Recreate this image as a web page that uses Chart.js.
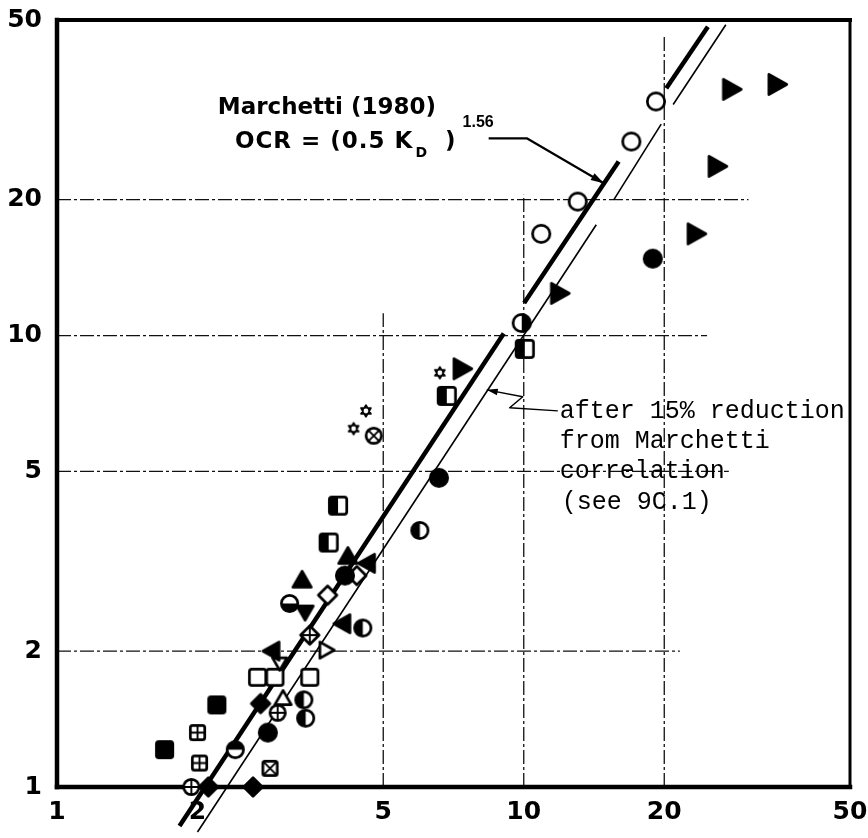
<!DOCTYPE html>
<html>
<head>
<meta charset="utf-8">
<script src="https://cdn.jsdelivr.net/npm/chart.js@4.4.1/dist/chart.umd.min.js"></script>
<style>
  html, body { margin: 0; padding: 0; background: #fff; }
  #wrap { width: 868px; height: 838px; }
</style>
</head>
<body>
<div id="wrap"><canvas id="ocrChart" width="868" height="838"></canvas></div>
<script>
// ticks on both log axes
const kdTicks = [1, 2, 5, 10, 20, 50];
const ocrTicks = [1, 2, 5, 10, 20, 50];

// measured points [K_D, OCR], one array per plotting symbol
const openCircle = [[19.2, 33.0], [17.0, 26.9], [13.05, 19.8], [10.9, 16.8]];
const fullCircle = [[18.9, 14.8], [6.58, 4.84], [4.14, 2.94], [2.83, 1.32]];
const leftHalfCircle = [[5.99, 3.70], [4.52, 2.25], [3.38, 1.56], [3.41, 1.42]];
const rightHalfCircle = [[9.90, 10.66]];
const bottomHalfCircle = [[3.15, 2.55]];
const topHalfCircle = [[2.41, 1.21]];
const plusCircle = [[1.94, 1.0], [2.97, 1.46]];
const crossCircle = [[4.77, 6.0]];
const rightTriangle = [[27.8, 35.1], [34.8, 36.0], [25.9, 23.7], [23.35, 16.8], [11.9, 12.4], [7.36, 8.44]];
const leftTriangle = [[4.63, 3.13], [4.10, 2.30], [2.89, 2.0]];
const upTriangle = [[4.20, 3.24], [3.35, 2.87]];
const downTriangle = [[3.40, 2.44]];
const openUpTriangle = [[3.05, 1.57]];
const openRightTriangle = [[3.77, 2.01]];
const openDownTriangle = [[3.0, 1.88]];
const openSquare = [[2.69, 1.75], [2.93, 1.75], [3.48, 1.75]];
const fullSquare = [[2.20, 1.52], [1.70, 1.21]];
const halfSquare = [[10.05, 9.34], [6.84, 7.35], [4.0, 4.20], [3.82, 3.48]];
const plusSquare = [[2.00, 1.32], [2.02, 1.13]];
const crossSquare = [[2.86, 1.10]];
const openDiamond = [[4.39, 2.94], [3.80, 2.66]];
const fullDiamond = [[2.11, 1.0], [2.63, 1.0], [2.73, 1.53]];
const plusDiamond = [[3.48, 2.17]];
const smallStar = [[6.61, 8.27], [4.59, 6.81], [4.32, 6.22]];

// Marchetti (1980) line and the 15% reduced line, in the pieces drawn on the sheet
const marchettiLine = [[[1.83, 0.82], [9.06, 10.1]], [[10.02, 11.8], [15.97, 24.3]], [[20.2, 35.3], [24.8, 48.3]]];
const reducedLine = [[[2.0, 0.795], [14.3, 17.6]], [[15.6, 20.0], [19.7, 29.4]], [[20.9, 32.5], [27.1, 48.8]]];

// partial grid lines: [value, from, to]
const gridRows = [[20, 1, 30.3], [10, 1, 24.7], [5, 1, 27.5], [2, 1, 21.6]];
const gridCols = [[5, 1, 11.2], [10, 1, 20.5], [20, 1, 45.9]];

function shapePath(g, shape, r) {
    if (shape === 'circle') {
        g.arc(0, 0, r, 0, Math.PI * 2);
    } else if (shape === 'square') {
        g.roundRect(-r, -r, 2 * r, 2 * r, r * 0.3);
    } else if (shape === 'diamond') {
        g.moveTo(0, -r * 1.2); g.lineTo(r * 1.2, 0); g.lineTo(0, r * 1.2); g.lineTo(-r * 1.2, 0); g.closePath();
    } else if (shape === 'triR') {
        g.moveTo(r, 0); g.lineTo(-r * 0.75, -r); g.lineTo(-r * 0.75, r); g.closePath();
    } else if (shape === 'triL') {
        g.moveTo(-r, 0); g.lineTo(r * 0.75, -r); g.lineTo(r * 0.75, r); g.closePath();
    } else if (shape === 'triU') {
        g.moveTo(0, -r); g.lineTo(r, r * 0.75); g.lineTo(-r, r * 0.75); g.closePath();
    } else if (shape === 'triD') {
        g.moveTo(0, r); g.lineTo(r, -r * 0.75); g.lineTo(-r, -r * 0.75); g.closePath();
    } else if (shape === 'star') {
        for (let k = 0; k < 2; k++) {
            const a0 = -Math.PI / 2 + k * Math.PI;
            g.moveTo(r * Math.cos(a0), r * Math.sin(a0));
            g.lineTo(r * Math.cos(a0 + 2.094), r * Math.sin(a0 + 2.094));
            g.lineTo(r * Math.cos(a0 + 4.189), r * Math.sin(a0 + 4.189));
            g.closePath();
        }
    }
}

function symbol(shape, fill, d) {
    const c = document.createElement('canvas');
    const s = Math.ceil(d + 8);
    c.width = s; c.height = s;
    const g = c.getContext('2d');
    g.translate(s / 2, s / 2);
    g.lineJoin = 'round';
    g.strokeStyle = '#000';
    const r = d / 2 - 1.3;
    const R = r * 1.5;

    g.beginPath(); shapePath(g, shape, r);
    g.fillStyle = fill === 'full' ? '#000' : '#fff';
    g.fill();

    g.save();
    g.beginPath(); shapePath(g, shape, r); g.clip();
    g.fillStyle = '#000';
    if (fill === 'left') g.fillRect(-R, -R, R, 2 * R);
    if (fill === 'right') g.fillRect(0, -R, R, 2 * R);
    if (fill === 'top') g.fillRect(-R, -R, 2 * R, R);
    if (fill === 'bottom') g.fillRect(-R, 0, 2 * R, R);
    g.lineWidth = 1.9;
    if (fill === 'plus') {
        g.beginPath(); g.moveTo(-R, 0); g.lineTo(R, 0); g.moveTo(0, -R); g.lineTo(0, R); g.stroke();
    }
    if (fill === 'cross') {
        g.beginPath(); g.moveTo(-R, -R); g.lineTo(R, R); g.moveTo(R, -R); g.lineTo(-R, R); g.stroke();
    }
    g.restore();

    g.lineWidth = shape === 'star' ? 1.8 : 2.7;
    g.beginPath(); shapePath(g, shape, r); g.stroke();
    if (shape === 'star') {
        g.fillStyle = '#000';
        g.fill();
        g.fillStyle = '#fff';
        g.beginPath(); g.arc(0, 0, r * 0.42, 0, Math.PI * 2); g.fill();
    }
    return c;
}

const symbolSets = [
    [openCircle, 'circle', 'open', 20],
    [fullCircle, 'circle', 'full', 20],
    [leftHalfCircle, 'circle', 'left', 19],
    [rightHalfCircle, 'circle', 'right', 20],
    [bottomHalfCircle, 'circle', 'bottom', 19],
    [topHalfCircle, 'circle', 'top', 19],
    [plusCircle, 'circle', 'plus', 18],
    [crossCircle, 'circle', 'cross', 18],
    [rightTriangle, 'triR', 'full', 23],
    [leftTriangle, 'triL', 'full', 21],
    [upTriangle, 'triU', 'full', 21],
    [downTriangle, 'triD', 'full', 19],
    [openUpTriangle, 'triU', 'open', 19],
    [openRightTriangle, 'triR', 'open', 19],
    [openDownTriangle, 'triD', 'open', 17],
    [openSquare, 'square', 'open', 19],
    [fullSquare, 'square', 'full', 19],
    [halfSquare, 'square', 'left', 20],
    [plusSquare, 'square', 'plus', 17],
    [crossSquare, 'square', 'cross', 17],
    [openDiamond, 'diamond', 'open', 18],
    [fullDiamond, 'diamond', 'full', 18],
    [plusDiamond, 'diamond', 'plus', 18],
    [smallStar, 'star', 'full', 14]
];

const toXY = pts => pts.map(p => ({ x: p[0], y: p[1] }));

const datasets = [];
symbolSets.forEach(([pts, shape, fill, d]) => {
    datasets.push({
        type: 'scatter',
        data: toXY(pts),
        pointStyle: symbol(shape, fill, d),
        pointRadius: d / 2,
        clip: false,
        order: 0
    });
});
marchettiLine.forEach(seg => {
    datasets.push({
        type: 'line', data: toXY(seg), borderColor: '#000', borderWidth: 4.5,
        pointRadius: 0, clip: false, order: 5
    });
});
reducedLine.forEach(seg => {
    datasets.push({
        type: 'line', data: toXY(seg), borderColor: '#000', borderWidth: 1.6,
        pointRadius: 0, clip: false, order: 5
    });
});

function arrow(ctx, pts, width, head) {
    ctx.lineWidth = width;
    ctx.beginPath();
    pts.forEach((p, i) => i ? ctx.lineTo(p[0], p[1]) : ctx.moveTo(p[0], p[1]));
    ctx.stroke();
    const [x1, y1] = pts[pts.length - 2];
    const [x2, y2] = pts[pts.length - 1];
    const a = Math.atan2(y2 - y1, x2 - x1);
    ctx.beginPath();
    ctx.moveTo(x2, y2);
    ctx.lineTo(x2 - head * Math.cos(a) + head * 0.3 * Math.sin(a), y2 - head * Math.sin(a) - head * 0.3 * Math.cos(a));
    ctx.lineTo(x2 - head * Math.cos(a) - head * 0.3 * Math.sin(a), y2 - head * Math.sin(a) + head * 0.3 * Math.cos(a));
    ctx.closePath();
    ctx.fill();
}

const paperPlugin = {
    id: 'paper',
    beforeDatasetsDraw(chart) {
        const { ctx, chartArea: a, scales: { x, y } } = chart;
        ctx.save();
        ctx.strokeStyle = '#111';
        ctx.lineWidth = 1.3;
        ctx.setLineDash([14, 3, 3, 3]);
        gridRows.forEach(([v, from, to]) => {
            ctx.beginPath();
            ctx.moveTo(x.getPixelForValue(from), y.getPixelForValue(v));
            ctx.lineTo(x.getPixelForValue(to), y.getPixelForValue(v));
            ctx.stroke();
        });
        gridCols.forEach(([v, from, to]) => {
            ctx.beginPath();
            ctx.moveTo(x.getPixelForValue(v), y.getPixelForValue(from));
            ctx.lineTo(x.getPixelForValue(v), y.getPixelForValue(to));
            ctx.stroke();
        });
        ctx.setLineDash([]);
        ctx.strokeStyle = '#000';
        ctx.lineCap = 'square';
        const side = (w, x1, y1, x2, y2) => {
            ctx.lineWidth = w;
            ctx.beginPath(); ctx.moveTo(x1, y1); ctx.lineTo(x2, y2); ctx.stroke();
        };
        side(4.5, a.left, a.top, a.left, a.bottom);
        side(4.5, a.left, a.bottom, a.right, a.bottom);
        side(4, a.left, a.top, a.right, a.top);
        side(3, a.right, a.top, a.right, a.bottom);
        ctx.restore();
    },
    afterDraw(chart) {
        const { ctx, scales: { x, y } } = chart;
        const P = (kd, ocr) => [x.getPixelForValue(kd), y.getPixelForValue(ocr)];
        ctx.save();
        ctx.fillStyle = '#000';
        ctx.strokeStyle = '#000';
        ctx.textBaseline = 'alphabetic';
        ctx.textAlign = 'left';

        // Marchetti label
        ctx.font = 'bold 23px "DejaVu Sans"';
        let [tx, ty] = P(2.21, 30.9);
        ctx.fillText('Marchetti (1980)', tx, ty);
        [tx, ty] = P(2.405, 25.98);
        const main = 'OCR = (0.5 K';
        ctx.letterSpacing = '1px';
        ctx.fillText(main, tx, ty);
        tx += ctx.measureText(main).width + 2;
        ctx.letterSpacing = '0px';
        ctx.font = 'bold 14px "DejaVu Sans"';
        ctx.fillText('D', tx, ty + 9);
        tx += ctx.measureText('D').width + 18;
        ctx.font = 'bold 23px "DejaVu Sans"';
        ctx.fillText(')', tx, ty);
        tx += ctx.measureText(')').width + 7;
        ctx.font = 'bold 16px "Liberation Sans"';
        ctx.fillText('1.56', tx, ty - 21);

        ctx.lineJoin = 'round';
        arrow(ctx, [P(8.41, 27.35), P(10.15, 27.35), P(14.84, 21.75)], 2.2, 13);

        // reduced line note
        ctx.font = '25px "Liberation Mono"';
        const noteLines = ['after 15% reduction', 'from Marchetti', 'correlation', '(see 9C.1)'];
        [tx, ty] = P(11.94, 6.575);
        noteLines.forEach((t, i) => ctx.fillText(t, tx + (i === 3 ? 2 : 0), ty + i * 30.3));
        arrow(ctx, [P(11.83, 6.81), P(9.33, 6.92), P(9.95, 7.32), P(8.33, 7.58)], 1.5, 11);
        ctx.restore();
    }
};

const tickFont = { family: 'DejaVu Sans', weight: 'bold', size: 25 };

new Chart(document.getElementById('ocrChart'), {
    type: 'scatter',
    data: { datasets: datasets },
    options: {
        responsive: false,
        animation: false,
        events: [],
        layout: { padding: { left: 0, top: 20, right: 18, bottom: 0 } },
        plugins: { legend: { display: false }, tooltip: { enabled: false } },
        scales: {
            x: {
                type: 'logarithmic',
                min: 1,
                max: 50,
                afterBuildTicks: s => { s.ticks = kdTicks.map(v => ({ value: v })); },
                afterFit: s => { s.height = 51; s.paddingLeft = 0; s.paddingRight = 0; },
                ticks: {
                    callback: v => String(v),
                    font: tickFont, color: '#000', padding: 10,
                    maxRotation: 0, autoSkip: false
                },
                grid: { display: false, drawTicks: false },
                border: { display: false }
            },
            y: {
                type: 'logarithmic',
                min: 1,
                max: 50,
                afterBuildTicks: s => { s.ticks = ocrTicks.map(v => ({ value: v })); },
                afterFit: s => { s.width = 57; s.paddingTop = 0; s.paddingBottom = 0; },
                ticks: {
                    callback: v => String(v),
                    font: tickFont, color: '#000', padding: 15,
                    autoSkip: false
                },
                grid: { display: false, drawTicks: false },
                border: { display: false }
            }
        }
    },
    plugins: [paperPlugin]
});
</script>
</body>
</html>
